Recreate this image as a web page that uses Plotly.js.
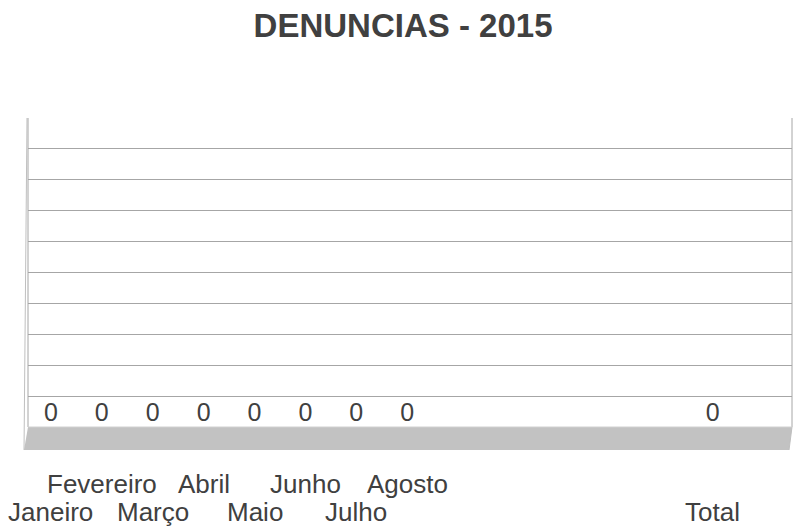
<!DOCTYPE html>
<html>
<head>
<meta charset="utf-8">
<script src="https://cdn.plot.ly/plotly-3.0.1.min.js"></script>
<style>html,body{margin:0;padding:0;background:#fff;}#chart{width:795px;height:528px;}</style>
</head>
<body>
<div id="chart"></div>
<script>
// Data
var categories = ["Janeiro", "Fevereiro", "Março", "Abril", "Maio", "Junho", "Julho", "Agosto", " ", "  ", "   ", "    ", "     ", "Total"];
var values = [0, 0, 0, 0, 0, 0, 0, 0, null, null, null, null, null, 0];
var tickLabels = ["Janeiro", "Fevereiro", "Março", "Abril", "Maio", "Junho", "Julho", "Agosto", "", "", "", "", "", "Total"];
var labelRow = [0, 1, 0, 1, 0, 1, 0, 1, 0, 0, 0, 0, 0, 0]; // 1 = upper row, 0 = lower row

var txtColor = "#404040";
var font = "Liberation Sans, Arial, sans-serif";

var traces = [
  {
    type: "bar",
    x: categories,
    y: values,
    marker: {color: "#4f81bd"},
    hoverinfo: "skip",
    showlegend: false
  },
  {
    type: "scatter",
    mode: "text",
    x: categories,
    y: values,
    text: values.map(function (v) { return v === null ? "" : String(v); }),
    textposition: "top center",
    textfont: {family: font, size: 25, color: txtColor},
    cliponaxis: false,
    hoverinfo: "skip",
    showlegend: false
  }
];

var annotations = tickLabels.map(function (t, i) {
  return {
    text: t,
    x: categories[i],
    xref: "x",
    yref: "paper",
    y: labelRow[i] ? -0.184 : -0.275,
    yanchor: "middle",
    xanchor: "center",
    showarrow: false,
    font: {family: font, size: 26, color: txtColor}
  };
}).filter(function (a) { return a.text !== ""; });

var edge = "#a6a6a6";
var shapes = [
  {type: "path", xref: "paper", yref: "paper",
   path: "M 0,0 L 1,0 L 0.9961,-0.0744 L -0.0052,-0.0744 Z",
   fillcolor: "#c2c2c2", line: {width: 0}, layer: "below"},
  {type: "line", xref: "paper", yref: "paper", x0: 0, y0: 0, x1: 0, y1: 1, line: {color: edge, width: 1}},
  {type: "line", xref: "paper", yref: "paper", x0: -0.0013, y0: 1, x1: -0.0052, y1: -0.0744, line: {color: "#bfbfbf", width: 1}},
  {type: "line", xref: "paper", yref: "paper", x0: 1, y0: 0, x1: 1, y1: 1, line: {color: edge, width: 1}},
  {type: "line", xref: "paper", yref: "paper", x0: 1, y0: 0, x1: 0.9961, y1: -0.0744, line: {color: "#bfbfbf", width: 1}},
  {type: "line", xref: "paper", yref: "paper", x0: 0, y0: 0, x1: 1, y1: 0, line: {color: "#d0d0d0", width: 1}}
];

var layout = {
  width: 795,
  height: 528,
  margin: {l: 28, r: 3, t: 118, b: 101, pad: 0},
  paper_bgcolor: "#ffffff",
  plot_bgcolor: "#ffffff",
  title: {
    text: "<b>DENUNCIAS - 2015</b>",
    font: {family: font, size: 33, color: txtColor},
    x: 0.507, xref: "container", xanchor: "center",
    y: 0.951, yref: "container", yanchor: "middle"
  },
  xaxis: {
    type: "category",
    categoryorder: "array",
    categoryarray: categories,
    range: [-0.45, 14.56],
    showticklabels: false,
    showgrid: false,
    zeroline: false,
    showline: false,
    ticks: ""
  },
  yaxis: {
    range: [0, 10],
    tickvals: [1, 2, 3, 4, 5, 6, 7, 8, 9],
    showticklabels: false,
    showgrid: true,
    gridcolor: "#a6a6a6",
    gridwidth: 1,
    zeroline: false,
    showline: false,
    ticks: ""
  },
  showlegend: false,
  annotations: annotations,
  shapes: shapes
};

Plotly.newPlot("chart", traces, layout, {displayModeBar: false, staticPlot: true});
</script>
</body>
</html>
